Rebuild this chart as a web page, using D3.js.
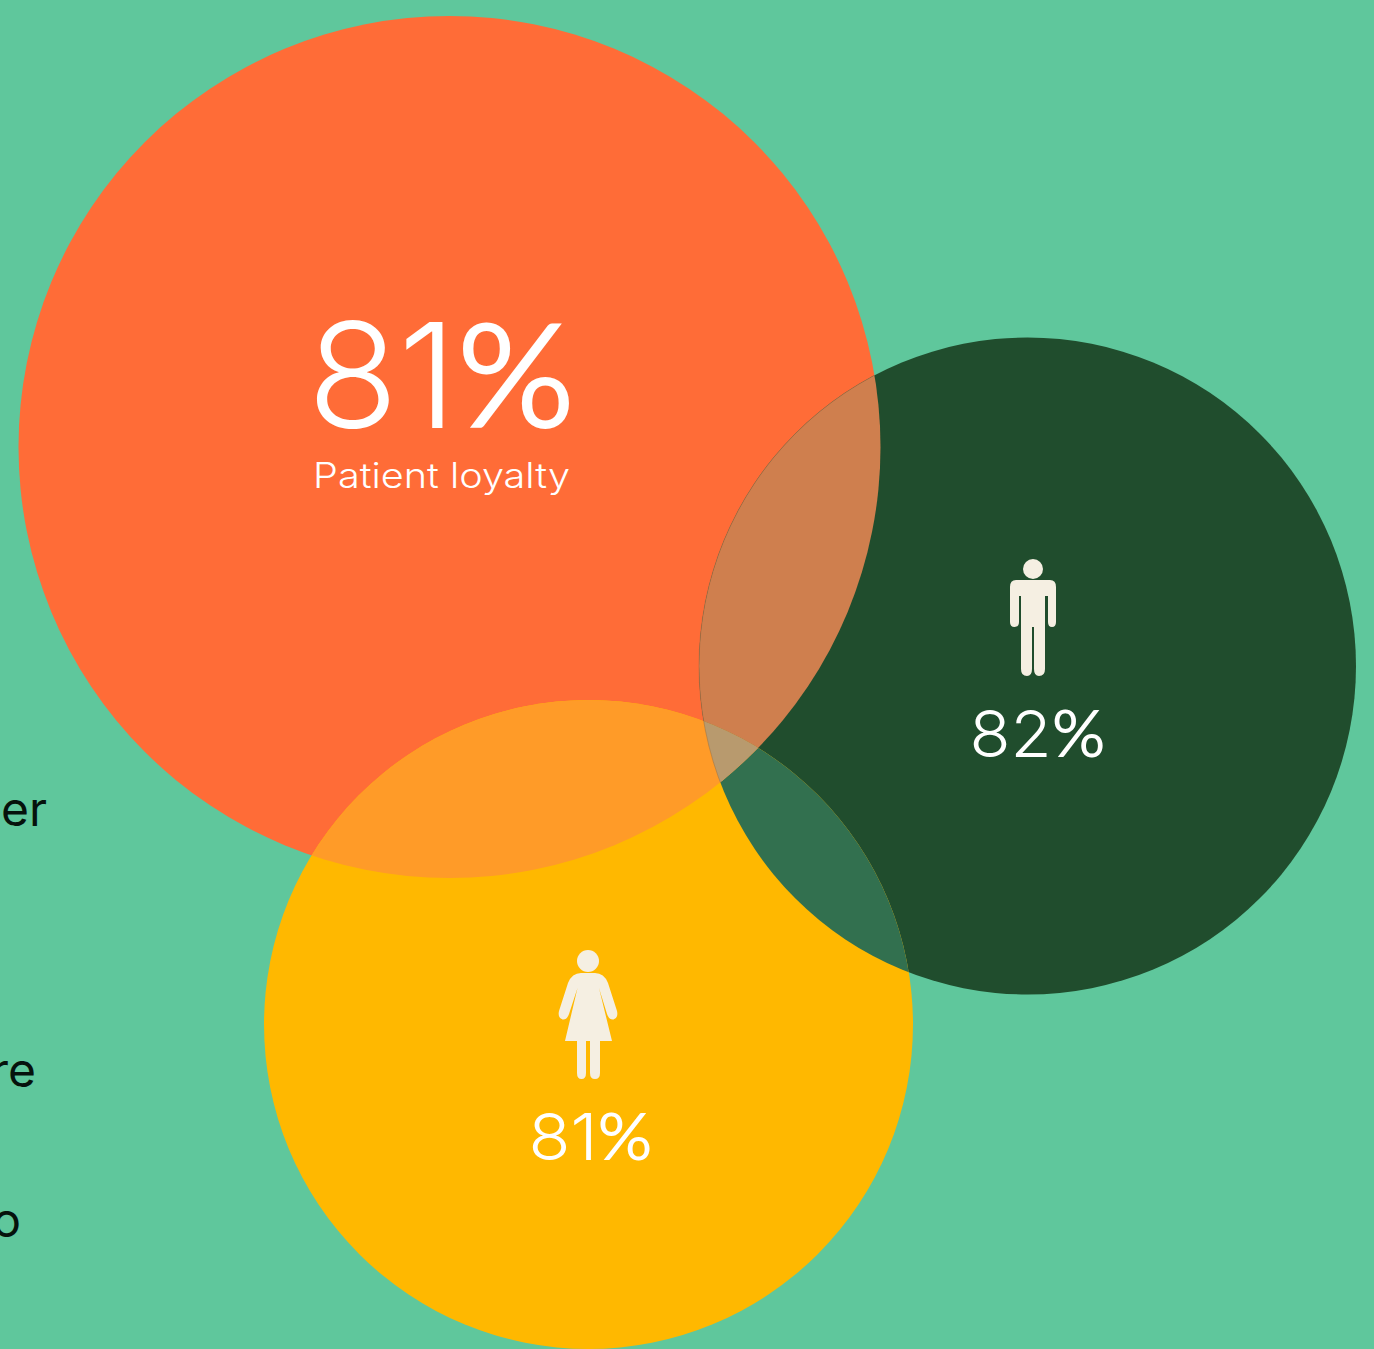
<!DOCTYPE html>
<html>
<head>
<meta charset="utf-8">
<script src="https://cdn.jsdelivr.net/npm/d3@7/dist/d3.min.js"></script>
<style>
html,body{margin:0;padding:0;background:#5fc79c;overflow:hidden}
svg{display:block}
text{font-family:Inter,"Noto Sans",sans-serif}
tspan.sign{font-family:Lato,Inter,sans-serif}
</style>
</head>
<body>
<script>
// Loyalty figures shown in the three discs
const groups = ["all", "men", "women"];
const percents = [81, 82, 81];
const caption = "Patient loyalty";
// Line endings of the paragraph running in from the left edge
const sideWords = ["er", "re", "o"];

const W = 1374, H = 1349;
const palette = {bg:"#5fc79c", all:"#ff6c37", men:"#204d2d", women:"#ffb800", icon:"#f5efe2"};
const overlapFill = {allMen:"#cf7f4e", menWomen:"#32704f", allWomen:"#ff9b28", triple:"#b89a6e"};

const disc = {
  all:{cx:449.5, cy:447, r:431},
  men:{cx:1027.5, cy:666, r:328.5},
  women:{cx:588.5, cy:1024.5, r:324.5}
};

const svg = d3.select("body").append("svg").attr("width",W).attr("height",H).attr("viewBox",`0 0 ${W} ${H}`);
svg.append("rect").attr("width",W).attr("height",H).attr("fill",palette.bg);

const defs = svg.append("defs");
groups.forEach(g=>{
  defs.append("clipPath").attr("id","clip-"+g)
    .append("circle").attr("cx",disc[g].cx).attr("cy",disc[g].cy).attr("r",disc[g].r);
});

// Base discs, then each overlap tinted through nested clips
svg.selectAll("circle.disc").data(groups).join("circle").attr("class","disc")
  .attr("cx",g=>disc[g].cx).attr("cy",g=>disc[g].cy).attr("r",g=>disc[g].r)
  .attr("fill",g=>palette[g]);

function lens(a, b, fill){
  svg.append("g").attr("clip-path",`url(#clip-${a})`)
    .append("circle").attr("cx",disc[b].cx).attr("cy",disc[b].cy).attr("r",disc[b].r).attr("fill",fill);
}
lens("all","men",overlapFill.allMen);
lens("men","women",overlapFill.menWomen);
lens("all","women",overlapFill.allWomen);
svg.append("g").attr("clip-path","url(#clip-all)")
  .append("g").attr("clip-path","url(#clip-men)")
  .append("circle").attr("cx",disc.women.cx).attr("cy",disc.women.cy).attr("r",disc.women.r).attr("fill",overlapFill.triple);

// Faint rim of the dark disc where it crosses the large one
svg.append("g").attr("clip-path","url(#clip-all)")
  .append("circle").attr("cx",disc.men.cx).attr("cy",disc.men.cy).attr("r",disc.men.r)
  .attr("fill","none").attr("stroke","#8a6a45").attr("stroke-width",1).attr("stroke-opacity",.4);

// Figures: the digits and the percent sign are set in different faces
const labelSpec = [
  {x:441.5, y:428, size:146, w:268},
  {x:1037.5, y:757, size:65, w:136},
  {x:590.5, y:1160, size:65, w:124}
];
const pct = svg.selectAll("text.pct").data(percents).join("text").attr("class","pct")
  .attr("x",(d,i)=>labelSpec[i].x).attr("y",(d,i)=>labelSpec[i].y)
  .attr("text-anchor","middle").attr("fill","#fff")
  .attr("font-size",(d,i)=>labelSpec[i].size).attr("font-weight",300)
  .attr("textLength",(d,i)=>labelSpec[i].w).attr("lengthAdjust","spacingAndGlyphs");
pct.append("tspan").text(d=>d);
pct.append("tspan").attr("class","sign").attr("font-weight",400).text("%");

svg.append("text").attr("x",441.5).attr("y",488).attr("text-anchor","middle").attr("fill","#fff")
  .attr("font-size",35).attr("font-weight",300)
  .attr("textLength",257).attr("lengthAdjust","spacingAndGlyphs").text(caption);

// Side paragraph fragments, cut off by the frame
const sideSpec = [{x:47,y:826},{x:36,y:1087},{x:21,y:1237}];
svg.selectAll("text.side").data(sideWords).join("text").attr("class","side")
  .attr("x",(d,i)=>sideSpec[i].x).attr("y",(d,i)=>sideSpec[i].y)
  .attr("text-anchor","end").attr("fill","#06120c").attr("font-size",48).attr("font-weight",400)
  .text(d=>d);

// Man pictogram
const man = svg.append("g").attr("fill",palette.icon);
man.append("circle").attr("cx",1033).attr("cy",569).attr("r",10);
man.append("path").attr("d",
 "M1016,580 H1050 Q1056,580 1056,587 V622 Q1056,627 1052,627 Q1048,627 1048,622 V596 H1045 V669 Q1045,676 1039,676 Q1034,676 1034,669 V627 H1032 V669 Q1032,676 1027,676 Q1021,676 1021,669 V596 H1019 V622 Q1019,627 1014.5,627 Q1010,627 1010,622 V587 Q1010,580 1016,580 Z");

// Woman pictogram
const woman = svg.append("g").attr("fill",palette.icon);
woman.append("circle").attr("cx",588).attr("cy",961).attr("r",11);
woman.append("path").attr("d",
 "M581,973 H595 Q604,973 608,983 L617,1011 Q618.5,1018 613.5,1019.5 Q609,1020 607,1014 L599,988 L612,1041 H600 V1073 Q600,1079 595,1079 Q590,1079 590,1073 V1041 H586 V1073 Q586,1079 581.5,1079 Q577,1079 577,1073 V1041 H565 L577.5,988 L569,1014 Q567,1020 562.5,1019.5 Q557.5,1018 559,1011 L568,983 Q572,973 581,973 Z");
</script>
</body>
</html>
